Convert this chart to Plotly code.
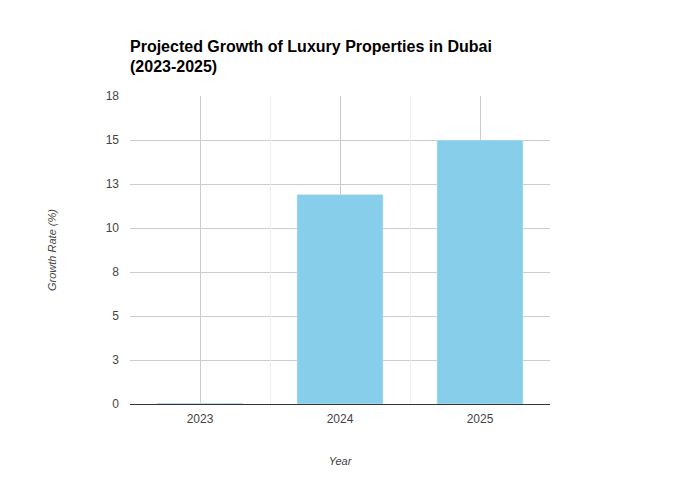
import plotly.graph_objects as go

years = ["2023", "2024", "2025"]
growth = [0.05, 11.9, 15.0]

fig = go.Figure()
fig.add_trace(go.Bar(x=years, y=growth, marker_color="#87CEEB", showlegend=False))
# invisible trace to drive boundary grid on overlay axis
fig.add_trace(go.Bar(x=years, y=[None, None, None], xaxis="x2", showlegend=False,
                     hoverinfo="skip"))

fig.update_layout(
    width=680, height=500,
    margin=dict(l=122, r=138, t=88, b=104),
    paper_bgcolor="white", plot_bgcolor="white",
    font=dict(family="Liberation Sans, Arial, sans-serif", size=12, color="#444"),
    title=dict(text="<b>Projected Growth of Luxury Properties in Dubai<br>(2023-2025)</b>",
               x=0, xref="paper", xanchor="left", y=0.913, yanchor="bottom",
               font=dict(size=16, color="black")),
    bargap=0.385,
    xaxis=dict(type="category", categoryorder="array", categoryarray=years,
               range=[-0.5, 2.5],
               showgrid=True, gridcolor="#cccccc", gridwidth=1,
               ticklabelstandoff=6,
               title=dict(text="<i>Year</i>", font=dict(size=11), standoff=32),
               ticks="", showline=False, zeroline=False),
    xaxis2=dict(type="category", categoryorder="array", categoryarray=years,
                range=[-0.5, 2.5], overlaying="x", tickson="boundaries",
                showgrid=True, gridcolor="#eeeeee", gridwidth=1,
                showticklabels=False, ticks="", showline=False, zeroline=False),
    yaxis=dict(range=[0, 17.5], tick0=0, dtick=2.5, tickformat=".0f",
               showgrid=True, gridcolor="#cccccc", gridwidth=1,
               zeroline=True, zerolinecolor="#333333", zerolinewidth=1,
               ticklabelstandoff=10,
               title=dict(text="<i>Growth Rate (%)</i>", font=dict(size=11), standoff=46),
               ticks="", showline=False),
)

fig.write_html("out.html")
